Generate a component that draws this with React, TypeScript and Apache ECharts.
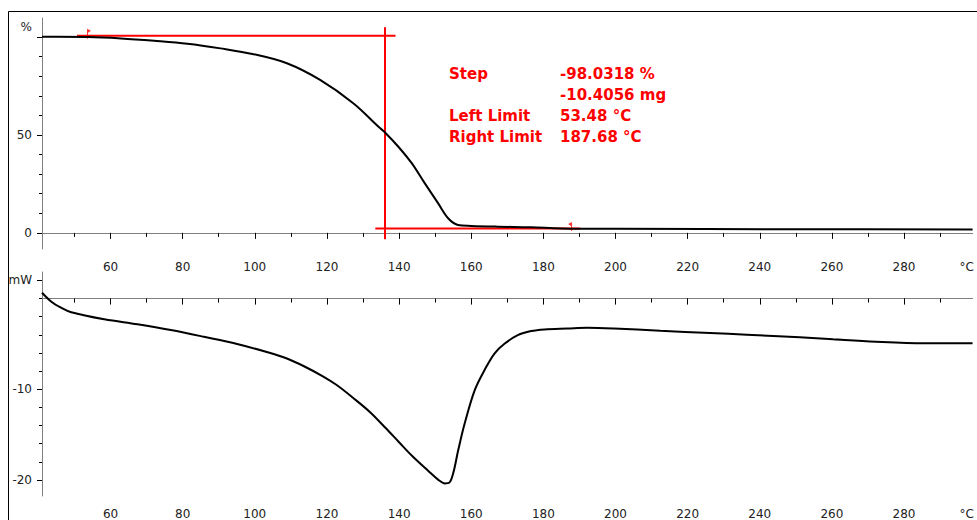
import { useEffect, useRef } from "react";
import * as echarts from "echarts";

// TGA curve (°C, %)
const tgaTemp = [41.0, 45.0, 53.7, 62.9, 72.1, 81.3, 90.5, 99.7, 108.9, 118.1, 127.3, 134.3, 136.1, 139.8, 143.5, 147.1, 150.8, 153.6, 156.3, 160.0, 167.4, 176.5, 185.0, 200.0, 250.0, 299.0];
const tgaPercent = [100.1, 100.1, 100.0, 99.3, 98.1, 96.6, 94.2, 91.2, 86.6, 78.1, 66.2, 54.2, 51.3, 44.0, 35.6, 25.4, 15.2, 7.5, 4.1, 3.6, 3.2, 2.9, 2.3, 2.1, 1.9, 1.8];

// DSC curve (°C, mW)
const dscTemp = [41.0, 43.6, 46.0, 49.1, 58.3, 67.5, 76.7, 85.9, 95.1, 104.3, 108.9, 113.5, 119.0, 122.7, 127.3, 131.9, 136.0, 139.8, 143.5, 148.1, 150.8, 152.7, 153.9, 155.0, 156.4, 158.2, 161.0, 163.7, 166.5, 169.3, 172.9, 176.6, 180.3, 186.7, 192.2, 199.6, 212.4, 226.2, 236.4, 251.1, 260.3, 272.2, 285.6, 299.0];
const dscPower = [0.65, -0.34, -0.95, -1.51, -2.29, -2.84, -3.47, -4.21, -5.0, -6.0, -6.6, -7.43, -8.59, -9.53, -10.96, -12.5, -14.16, -15.75, -17.3, -19.0, -19.95, -20.37, -20.3, -19.26, -16.7, -13.75, -10.07, -7.87, -6.03, -4.96, -4.03, -3.58, -3.4, -3.3, -3.22, -3.3, -3.55, -3.79, -3.98, -4.27, -4.49, -4.75, -4.92, -4.93];

// Step evaluation (red construction lines)
const stepTopLevel = 100.7;
const stepBottomLevel = 2.2;
const stepTopFrom = 50.7;
const stepTopTo = 139.0;
const stepBottomFrom = 133.4;
const stepBottomTo = 190.2;
const stepMidTemp = 136.1;
const stepMidFrom = 105.0;
const stepMidTo = -3.2;
const leftLimit = 53.48;
const rightLimit = 187.68;

const resultLabels = ["Step", "", "Left Limit", "Right Limit"];
const resultValues = ["-98.0318 %", "-10.4056 mg", "53.48 °C", "187.68 °C"];

// ticks / labels
const xMinorTicks = [50, 60, 70, 80, 90, 100, 110, 120, 130, 140, 150, 160, 170, 180, 190, 200, 210, 220, 230, 240, 250, 260, 270, 280, 290];
const xMajorTicks = [60, 80, 100, 120, 140, 160, 180, 200, 220, 240, 260, 280];
const xUnitAt = 297.4;
const xUnit = "°C";
const tgaMinorTicks = [0, 10, 20, 30, 40, 50, 60, 70, 80, 90, 100];
const tgaMajorTicks = [0, 50, 100];
const tgaLabels = [0, 50];
const tgaUnitAt = 105;
const tgaUnit = "%";
const dscMinorTicks = [2, 0, -2, -4, -6, -8, -10, -12, -14, -16, -18, -20];
const dscMajorTicks = [2, -10, -20];
const dscLabels = [-10, -20];
const dscUnitAt = 2;
const dscUnit = "mW";

const X_MIN = 41;
const X_MAX = 299;

const FONT = "DejaVu Sans";
const AXIS_GRAY = "#808080";
const TEXT = "#222";

export default function App() {
  const ref = useRef<HTMLDivElement>(null);
  useEffect(() => {
    document.body.style.margin = "0";
    const chart = echarts.init(ref.current!, null, { renderer: "svg" });

    const xAxisPair = (grid: number) => [
      {
        type: "value",
        gridIndex: grid,
        position: "bottom",
        offset: 0,
        min: X_MIN,
        max: X_MAX,
        axisLine: { show: true, lineStyle: { color: AXIS_GRAY, width: 1 } },
        axisTick: { show: true, customValues: xMinorTicks, length: 4, lineStyle: { color: "#000" } },
        axisLabel: { show: false },
        splitLine: { show: false },
      },
      {
        type: "value",
        gridIndex: grid,
        position: "bottom",
        offset: 0,
        min: X_MIN,
        max: X_MAX,
        axisLine: { show: false },
        axisTick: { show: true, customValues: xMajorTicks, length: 6, lineStyle: { color: "#000" } },
        axisLabel: {
          show: true,
          customValues: [...xMajorTicks, xUnitAt],
          formatter: (v: number) => (v === xUnitAt ? xUnit : String(v)),
          fontFamily: FONT,
          fontSize: 12,
          color: TEXT,
          margin: 12,
        },
        splitLine: { show: false },
      },
    ];

    const yAxisPair = (
      grid: number,
      min: number,
      max: number,
      minor: number[],
      major: number[],
      labels: number[],
      unitAt: number,
      unit: string
    ) => [
      {
        type: "value",
        gridIndex: grid,
        position: "left",
        offset: 0,
        min,
        max,
        axisLine: { show: true, lineStyle: { color: AXIS_GRAY, width: 1 } },
        axisTick: { show: true, customValues: minor, length: 3, lineStyle: { color: "#000" } },
        axisLabel: { show: false },
        splitLine: { show: false },
      },
      {
        type: "value",
        gridIndex: grid,
        position: "left",
        offset: 0,
        min,
        max,
        axisLine: { show: false },
        axisTick: { show: true, customValues: major, length: 5, lineStyle: { color: "#000" } },
        axisLabel: {
          show: true,
          customValues: [...labels, unitAt],
          formatter: (v: number) => (v === unitAt ? unit : String(v)),
          fontFamily: FONT,
          fontSize: 12,
          color: TEXT,
          margin: 10,
        },
        splitLine: { show: false },
      },
    ];

    const red = "#ff0000";
    const redLine = (data: number[][]) => ({
      type: "line",
      xAxisIndex: 0,
      yAxisIndex: 0,
      data,
      symbol: "none",
      lineStyle: { color: red, width: 2 },
      silent: true,
      z: 2,
    });

    const rowY = [74, 95, 116, 137];
    const textEls: any[] = [];
    resultLabels.forEach((t, i) => {
      if (t)
        textEls.push({
          type: "text",
          x: 449,
          y: rowY[i],
          style: { text: t, fill: red, font: `bold 15px "${FONT}"`, verticalAlign: "middle" },
        });
      textEls.push({
        type: "text",
        x: 560,
        y: rowY[i],
        style: { text: resultValues[i], fill: red, font: `bold 15px "${FONT}"`, verticalAlign: "middle" },
      });
    });

    const option: any = {
      animation: false,
      backgroundColor: "#fff",
      grid: [
        { left: 42, right: 0, top: 18, bottom: 520 - 249 },
        { left: 42, right: 0, top: 272, bottom: 520 - 496 },
      ],
      xAxis: [...xAxisPair(0), ...xAxisPair(1)],
      yAxis: [
        ...yAxisPair(0, -8.2, 109.7, tgaMinorTicks, tgaMajorTicks, tgaLabels, tgaUnitAt, tgaUnit),
        ...yAxisPair(1, -21.76, 2.93, dscMinorTicks, dscMajorTicks, dscLabels, dscUnitAt, dscUnit),
      ],
      graphic: [
        {
          type: "rect",
          shape: { x: 8.5, y: 11.5, width: 2000, height: 2000 },
          style: { fill: "none", stroke: "#000", lineWidth: 1 },
          z: -10,
          silent: true,
        },
        ...textEls,
      ],
      series: [
        redLine([[stepTopFrom, stepTopLevel], [stepTopTo, stepTopLevel]]),
        redLine([[stepMidTemp, stepMidFrom], [stepMidTemp, stepMidTo]]),
        redLine([[stepBottomFrom, stepBottomLevel], [stepBottomTo, stepBottomLevel]]),
        {
          type: "scatter",
          xAxisIndex: 0,
          yAxisIndex: 0,
          data: [[leftLimit, stepTopLevel]],
          symbol: "path://M0,0 L4,2 L1,4 L1,10 L0,10 Z",
          symbolSize: [4, 10],
          symbolOffset: [2, -2],
          itemStyle: { color: red },
          silent: true,
          z: 3,
        },
        {
          type: "scatter",
          xAxisIndex: 0,
          yAxisIndex: 0,
          data: [[rightLimit, stepBottomLevel]],
          symbol: "path://M4,0 L0,2 L3,4 L3,9 L4,9 Z",
          symbolSize: [4, 9],
          symbolOffset: [-1, -2],
          itemStyle: { color: red },
          silent: true,
          z: 3,
        },
        {
          type: "line",
          xAxisIndex: 0,
          yAxisIndex: 0,
          data: tgaTemp.map((t, i) => [t, tgaPercent[i]]),
          symbol: "none",
          smooth: 0.35,
          lineStyle: { color: "#000", width: 2 },
          silent: true,
          z: 4,
        },
        {
          type: "line",
          xAxisIndex: 2,
          yAxisIndex: 2,
          data: dscTemp.map((t, i) => [t, dscPower[i]]),
          symbol: "none",
          smooth: 0.35,
          lineStyle: { color: "#000", width: 2 },
          silent: true,
          z: 4,
        },
      ],
    };
    chart.setOption(option);
    return () => chart.dispose();
  }, []);
  return <div ref={ref} style={{ width: 977, height: 520 }} />;
}
